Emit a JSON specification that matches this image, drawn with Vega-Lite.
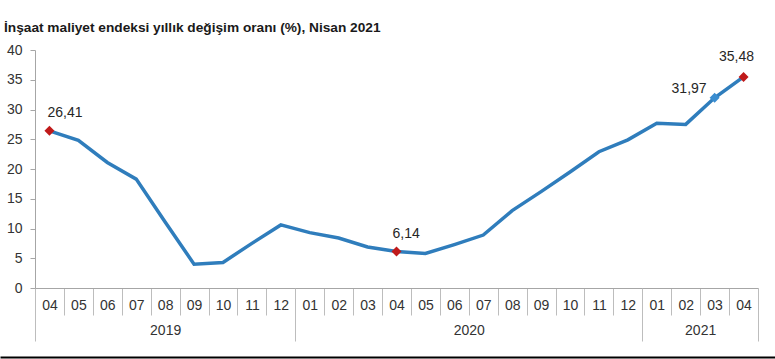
{
  "$schema": "https://vega.github.io/schema/vega-lite/v6.json",
  "autosize": "none",
  "width": 723,
  "height": 238,
  "padding": {"left": 35, "top": 50, "right": 17, "bottom": 71},
  "background": "white",
  "config": {
    "view": {"stroke": null},
    "font": "Liberation Sans",
    "locale": {"number": {"decimal": ",", "thousands": ".", "grouping": [3], "currency": ["", " TL"]}}
  },
  "title": {
    "text": "İnşaat maliyet endeksi yıllık değişim oranı (%), Nisan 2021",
    "anchor": "start",
    "frame": "group",
    "dx": -31,
    "offset": 8,
    "font": "Liberation Sans",
    "fontSize": 13.7,
    "fontWeight": "bold",
    "color": "#1a1a1a"
  },
  "data": {
    "values": [
      {"t": "2019-04", "v": 26.41, "k": "red"},
      {"t": "2019-05", "v": 24.8, "k": "none"},
      {"t": "2019-06", "v": 21.1, "k": "none"},
      {"t": "2019-07", "v": 18.3, "k": "none"},
      {"t": "2019-08", "v": 11.1, "k": "none"},
      {"t": "2019-09", "v": 4.0, "k": "none"},
      {"t": "2019-10", "v": 4.3, "k": "none"},
      {"t": "2019-11", "v": 7.5, "k": "none"},
      {"t": "2019-12", "v": 10.6, "k": "none"},
      {"t": "2020-01", "v": 9.3, "k": "none"},
      {"t": "2020-02", "v": 8.4, "k": "none"},
      {"t": "2020-03", "v": 6.9, "k": "none"},
      {"t": "2020-04", "v": 6.14, "k": "red"},
      {"t": "2020-05", "v": 5.8, "k": "none"},
      {"t": "2020-06", "v": 7.3, "k": "none"},
      {"t": "2020-07", "v": 8.9, "k": "none"},
      {"t": "2020-08", "v": 13.0, "k": "none"},
      {"t": "2020-09", "v": 16.2, "k": "none"},
      {"t": "2020-10", "v": 19.5, "k": "none"},
      {"t": "2020-11", "v": 22.9, "k": "none"},
      {"t": "2020-12", "v": 24.9, "k": "none"},
      {"t": "2021-01", "v": 27.7, "k": "none"},
      {"t": "2021-02", "v": 27.5, "k": "none"},
      {"t": "2021-03", "v": 31.97, "k": "blue"},
      {"t": "2021-04", "v": 35.48, "k": "red"}
    ]
  },
  "layer": [
    {
      "encoding": {
        "x": {
          "field": "t",
          "type": "ordinal",
          "scale": {"paddingInner": 0, "paddingOuter": 0},
          "axis": {
            "orient": "bottom",
            "title": null,
            "labelExpr": "isString(datum.value) ? substring(datum.value, 5, 7) : ''",
            "labelAngle": 0,
            "labelFontSize": 14,
            "labelColor": "#333333",
            "tickBand": "extent",
            "tickSize": 27,
            "tickColor": "#bdbdbd",
            "domainColor": "#a6a6a6",
            "labelPadding": -17
          }
        },
        "y": {
          "field": "v",
          "type": "quantitative",
          "scale": {"domain": [0, 40], "nice": false},
          "axis": {
            "title": null,
            "values": [0, 5, 10, 15, 20, 25, 30, 35, 40],
            "tickCount": 12,
            "labelOverlap": false,
            "grid": false,
            "tickSize": 5,
            "tickColor": "#a6a6a6",
            "domainColor": "#a6a6a6",
            "labelFontSize": 14,
            "labelColor": "#333333",
            "labelPadding": 8
          }
        }
      },
      "layer": [
        {
          "mark": {"type": "line", "color": "#2f7dbc", "strokeWidth": 3.5}
        },
        {
          "transform": [{"filter": "datum.k != 'none'"}],
          "mark": {"type": "point", "shape": "diamond", "filled": true, "size": 100, "opacity": 1},
          "encoding": {
            "color": {
              "field": "k",
              "type": "nominal",
              "scale": {"domain": ["red", "blue"], "range": ["#c01a1a", "#3a8dd0"]},
              "legend": null
            }
          }
        },
        {
          "transform": [{"filter": "datum.t == '2019-04'"}],
          "mark": {"type": "text", "align": "left", "baseline": "alphabetic", "dx": -2, "dy": -14, "fontSize": 14, "color": "#262626"},
          "encoding": {
            "text": {"field": "v", "type": "quantitative", "format": ".2f"}
          }
        },
        {
          "transform": [{"filter": "datum.t == '2020-04'"}],
          "mark": {"type": "text", "align": "left", "baseline": "alphabetic", "dx": -4, "dy": -13, "fontSize": 14, "color": "#262626"},
          "encoding": {
            "text": {"field": "v", "type": "quantitative", "format": ".2f"}
          }
        },
        {
          "transform": [{"filter": "datum.t == '2021-03'"}],
          "mark": {"type": "text", "align": "right", "baseline": "alphabetic", "dx": -8, "dy": -5, "fontSize": 14, "color": "#262626"},
          "encoding": {
            "text": {"field": "v", "type": "quantitative", "format": ".2f"}
          }
        },
        {
          "transform": [{"filter": "datum.t == '2021-04'"}],
          "mark": {"type": "text", "align": "center", "baseline": "alphabetic", "dx": -7, "dy": -16, "fontSize": 14, "color": "#262626"},
          "encoding": {
            "text": {"field": "v", "type": "quantitative", "format": ".2f"}
          }
        }
      ]
    },
    {
      "mark": {"type": "rule", "opacity": 0},
      "encoding": {
        "x": {
          "datum": 0,
          "type": "quantitative",
          "scale": {"domain": [0, 25], "nice": false, "zero": false},
          "axis": {
            "orient": "bottom",
            "title": null,
            "domain": false,
            "grid": false,
            "values": [0, 4.5, 9, 15, 21, 23, 25],
            "tickCount": 30,
            "tickSize": 53,
            "tickColor": "#bdbdbd",
            "tickOpacity": {"condition": {"test": "datum.value == 0 || datum.value == 9 || datum.value == 21 || datum.value == 25", "value": 1}, "value": 0},
            "labelExpr": "datum.value == 4.5 ? '2019' : datum.value == 15 ? '2020' : datum.value == 23 ? '2021' : ''",
            "labelFontSize": 14,
            "labelColor": "#333333",
            "labelPadding": -18,
            "labelOverlap": false,
            "labelFlush": false,
            "labelBound": false
          }
        }
      }
    },
    {
      "mark": {"type": "rule", "opacity": 0},
      "encoding": {
        "x": {
          "datum": 0,
          "type": "quantitative",
          "scale": {"domain": [0, 1], "range": [-35, 740], "nice": false, "zero": false},
          "axis": {
            "orient": "bottom",
            "title": null,
            "grid": false,
            "ticks": false,
            "labels": false,
            "domainColor": "#000000",
            "domainWidth": 2,
            "offset": 69
          }
        }
      }
    }
  ],
  "resolve": {"scale": {"x": "independent"}, "axis": {"x": "independent"}}
}
